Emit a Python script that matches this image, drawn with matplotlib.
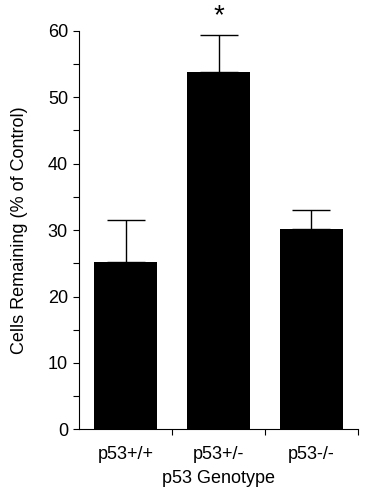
import matplotlib
matplotlib.use("Agg")
import matplotlib.pyplot as plt
import numpy as np

# Datos
genotipos = ["p53+/+", "p53+/-", "p53-/-"]
celulas = [25.2, 53.8, 30.1]
error_sup = [6.3, 5.5, 3.0]
significativo = [False, True, False]

plt.rcParams["font.family"] = ["Liberation Sans", "DejaVu Sans"]

fig = plt.figure(figsize=(3.66, 4.97), dpi=100)
ax = fig.add_axes([0.216, 0.136, 0.762, 0.802])

pos = np.arange(len(genotipos)) + 0.5
ax.bar(pos, celulas, width=0.68, color="black", zorder=2)
ax.errorbar(
    pos,
    celulas,
    yerr=[np.zeros(len(celulas)), error_sup],
    fmt="none",
    ecolor="black",
    elinewidth=1,
    capsize=14,
    capthick=1,
    zorder=1,
)

for x, y, e, sig in zip(pos, celulas, error_sup, significativo):
    if sig:
        ax.text(x, y + e + 1.0, "*", ha="center", va="bottom",
                fontsize=20, clip_on=False)

ax.set_xlim(0, len(genotipos))
ax.set_ylim(0, 60)

# Ticks del eje x en los bordes de categoría, etiquetas en el centro
ax.set_xticks(np.arange(1, len(genotipos) + 1))
ax.set_xticklabels([])
ax.set_xticks(pos, minor=True)
ax.set_xticklabels(genotipos, minor=True, fontsize=13)
ax.tick_params(axis="x", which="minor", length=0, pad=12)
ax.tick_params(axis="x", which="major", length=4, width=0.8)

ax.set_yticks(np.arange(0, 61, 10))
ax.set_yticks(np.arange(5, 60, 10), minor=True)
ax.tick_params(axis="y", which="both", length=4, width=0.8, labelsize=13,
               pad=4)

ax.spines["top"].set_visible(False)
ax.spines["right"].set_visible(False)
ax.spines["left"].set_linewidth(0.8)
ax.spines["bottom"].set_linewidth(0.8)

ax.set_ylabel("Cells Remaining (% of Control)", fontsize=13, labelpad=14)
ax.set_xlabel("p53 Genotype", fontsize=13, labelpad=5)

fig.savefig("out.png", dpi=100)
